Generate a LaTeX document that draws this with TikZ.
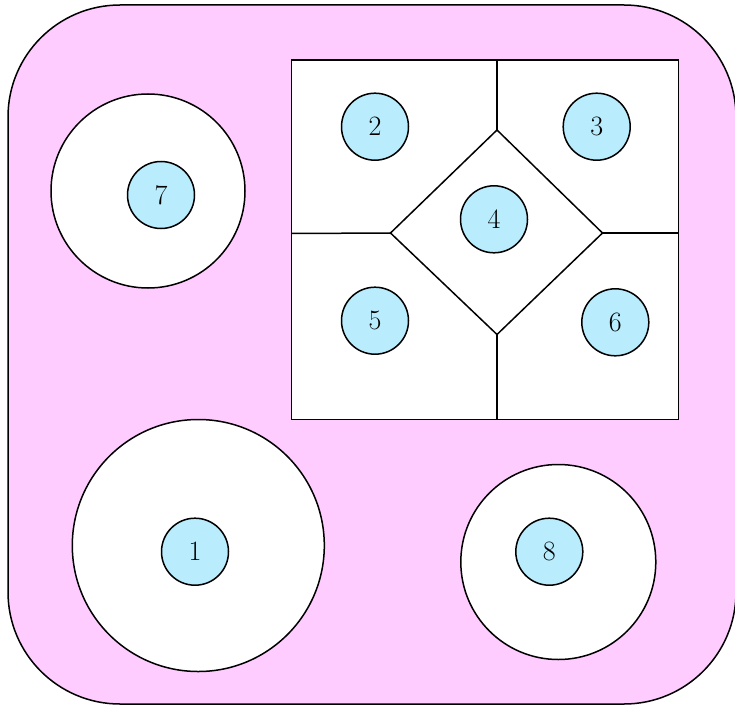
\documentclass[tikz,border=0pt]{standalone}
\definecolor{bgpink}{HTML}{FFCCFF}
\definecolor{discblue}{HTML}{B9ECFC}
\begin{document}
\begin{tikzpicture}[x=1pt,y=-1pt,line width=1.5pt,
  disc/.style={circle,draw,fill=discblue,minimum size=67pt,inner sep=0pt,font=\fontsize{28}{34}\selectfont},
  ring/.style={circle,draw,fill=white,inner sep=0pt}]
\useasboundingbox (0,0) rectangle (735,706);
\draw[fill=bgpink,rounded corners=112pt] (8,5) rectangle (736,704);
% square region
\draw[fill=white] (291.5,60) rectangle (678.5,419.5);
\coordinate (dT) at (497,130);
\coordinate (dL) at (390.5,233);
\coordinate (dR) at (602.5,233);
\coordinate (dB) at (497,334.5);
\coordinate (sT) at (497,60);
\coordinate (sL) at (291.5,233.5);
\coordinate (sR) at (678.5,233);
\coordinate (sB) at (497,419.5);
\draw (dT) -- (dR) -- (dB) -- (dL) -- cycle;
\draw (sT) -- (dT);
\draw (sL) -- (dL);
\draw (sR) -- (dR);
\draw (sB) -- (dB);
% rings
\node[ring,minimum size=194pt] (r7) at (148,191) {};
\node[ring,minimum size=252pt] (r1) at (198.3,545.5) {};
\node[ring,minimum size=195pt] (r8) at (558.3,562) {};
% discs
\node[disc] (n1) at (195,551.7) {1};
\node[disc] (n2) at (375,126.7) {2};
\node[disc] (n3) at (596.7,126.7) {3};
\node[disc] (n4) at (494,219.3) {4};
\node[disc] (n5) at (375,320.7) {5};
\node[disc] (n6) at (615.3,322.3) {6};
\node[disc] (n7) at (161,195) {7};
\node[disc] (n8) at (549.3,551.7) {8};
\end{tikzpicture}
\end{document}
